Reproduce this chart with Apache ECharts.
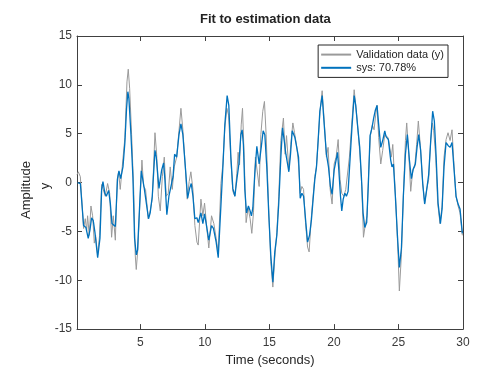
<!DOCTYPE html>
<html>
<head>
<meta charset="utf-8">
<script src="https://cdn.jsdelivr.net/npm/echarts@6/dist/echarts.min.js"></script>
<style>
html,body{margin:0;padding:0;background:#fff;}
#chart{width:490px;height:372px;}
</style>
</head>
<body>
<div id="chart"></div>
<script>
// Validation data (y) — gray
var valT = [0.1,0.2,0.36,0.61,0.74,0.85,0.92,1.05,1.18,1.31,1.44,1.54,1.7,1.85,2.01,2.14,2.29,2.47,2.63,2.78,2.91,3.07,3.22,3.32,3.45,3.63,3.81,3.97,4.07,4.18,4.33,4.49,4.61,4.69,4.82,4.97,5.13,5.26,5.41,5.62,5.77,5.93,6.14,6.27,6.4,6.55,6.71,6.86,7.01,7.17,7.32,7.48,7.63,7.82,8.0,8.15,8.3,8.49,8.64,8.79,8.92,9.08,9.23,9.39,9.49,9.7,9.85,9.98,10.16,10.31,10.52,10.7,10.88,11.04,11.25,11.4,11.55,11.71,11.84,12.02,12.17,12.33,12.48,12.58,12.69,12.82,12.92,13.05,13.2,13.36,13.51,13.64,13.77,13.92,14.05,14.21,14.34,14.49,14.62,14.75,14.96,15.11,15.27,15.42,15.58,15.73,15.89,16.09,16.22,16.33,16.51,16.66,16.82,16.95,17.13,17.28,17.39,17.52,17.65,17.8,17.96,18.08,18.26,18.39,18.52,18.65,18.83,18.93,19.09,19.25,19.42,19.55,19.71,19.86,20.02,20.17,20.33,20.48,20.61,20.77,20.92,21.05,21.2,21.38,21.57,21.69,21.87,22.03,22.16,22.29,22.42,22.57,22.7,22.83,22.98,23.11,23.21,23.34,23.47,23.63,23.78,23.94,24.06,24.2,24.35,24.45,24.56,24.66,24.81,24.97,25.07,25.23,25.38,25.54,25.64,25.8,25.95,26.11,26.26,26.41,26.54,26.69,26.88,27.03,27.19,27.34,27.5,27.63,27.73,27.89,28.04,28.22,28.38,28.53,28.69,28.84,29.0,29.15,29.31,29.46,29.62,29.77,29.95];
var valY = [0.8,1.1,0.6,-4.7,-3.7,-4.9,-3.4,-5.4,-2.4,-3.4,-6.2,-5.4,-7.4,-5.4,-0.2,-0.2,-1.4,-0.1,-1.1,-5.6,-3.4,-5.9,0.3,1.1,-0.7,2.0,4.6,10.3,11.6,9.6,4.9,-0.7,-7.4,-8.9,-6.7,-2.1,2.3,-0.4,-0.7,-3.7,-2.9,-1.7,5.1,2.9,-1.4,-2.9,0.6,2.6,-1.4,-1.1,1.6,-0.7,1.6,2.6,5.3,7.6,5.4,1.6,-1.7,0.1,1.1,-0.7,-4.4,-6.1,-6.4,-1.7,-3.4,-2.1,-4.7,-6.7,-3.4,-4.2,-5.7,-7.2,-0.1,1.9,5.6,7.6,6.9,2.3,-0.9,-1.4,0.9,3.1,1.8,5.9,7.6,2.6,-4.1,-2.6,-3.7,-5.2,-3.1,2.6,2.6,-0.4,4.9,7.3,8.3,4.9,-3.1,-8.1,-10.7,-7.7,-5.1,-1.4,4.3,6.6,2.9,4.8,1.3,3.9,6.1,5.1,3.6,1.6,-1.1,-0.4,-0.7,-4.1,-6.6,-7.1,-3.4,-1.4,0.6,1.6,5.3,7.3,9.4,6.3,2.6,3.6,-0.7,-2.2,1.9,2.6,4.4,0.3,-1.1,-1.4,-0.7,-0.6,2.6,5.9,9.5,7.9,5.3,2.6,-0.4,-5.6,-4.4,-3.4,1.3,4.8,5.9,5.4,6.6,7.9,4.6,1.9,3.3,4.9,4.7,4.6,4.4,2.6,3.9,4.0,-2.4,-7.4,-11.1,-7.4,-1.4,4.3,6.1,2.9,-0.9,1.3,1.6,3.9,6.3,3.8,-0.1,-2.1,-0.7,0.3,4.3,6.1,5.3,2.6,-2.1,-4.2,-2.4,2.6,4.4,5.1,4.3,5.4,1.6,-1.4,-2.4,-3.1,-5.4];

// sys: 70.78% — blue
var sysT = [0.15,0.36,0.61,0.79,0.87,0.97,1.1,1.23,1.36,1.49,1.7,1.88,2.01,2.11,2.26,2.37,2.55,2.68,2.81,2.94,3.07,3.24,3.35,3.48,3.66,3.81,3.94,4.04,4.12,4.28,4.43,4.56,4.69,4.79,4.95,5.08,5.18,5.31,5.46,5.64,5.77,5.93,6.14,6.24,6.45,6.66,6.81,6.91,7.06,7.22,7.38,7.54,7.66,7.82,8.0,8.15,8.3,8.51,8.67,8.82,8.95,9.08,9.23,9.39,9.49,9.7,9.85,9.98,10.13,10.31,10.52,10.67,10.88,11.04,11.22,11.4,11.55,11.73,11.86,12.02,12.17,12.33,12.48,12.64,12.79,12.89,12.99,13.1,13.23,13.38,13.51,13.61,13.72,13.87,14.03,14.21,14.37,14.52,14.65,14.8,14.96,15.11,15.27,15.42,15.58,15.73,15.89,16.02,16.15,16.28,16.41,16.51,16.64,16.77,16.87,16.98,17.13,17.26,17.39,17.52,17.65,17.8,17.96,18.11,18.26,18.39,18.52,18.65,18.78,18.91,19.09,19.25,19.42,19.58,19.73,19.86,20.02,20.17,20.28,20.38,20.51,20.61,20.72,20.85,20.97,21.1,21.26,21.41,21.57,21.69,21.85,22.0,22.13,22.26,22.39,22.54,22.67,22.8,22.95,23.08,23.21,23.34,23.47,23.63,23.78,23.94,24.04,24.22,24.4,24.5,24.61,24.76,24.92,25.07,25.23,25.38,25.54,25.69,25.85,26.0,26.15,26.31,26.44,26.57,26.72,26.88,27.03,27.19,27.34,27.5,27.65,27.78,27.91,28.07,28.25,28.38,28.53,28.69,28.84,29.0,29.15,29.31,29.46,29.62,29.77,29.95];
var sysY = [0,-0.1,-4.4,-4.6,-5.1,-5.7,-4.9,-3.6,-3.9,-5.1,-7.7,-5.7,-0.7,0.1,-1.1,-1.4,-0.8,-2.1,-4.2,-4.0,-4.5,0.4,1.2,0.4,1.6,4.1,7.6,9.3,8.6,4.9,0.6,-5.7,-7.4,-6.9,-2.4,1.2,1.4,-0.6,-0.7,-3.7,-3.1,-1.4,3.3,2.6,-0.6,1.3,2.0,0.3,-3.3,-1.4,-0.4,0.6,2.9,2.6,4.9,6.0,4.9,1.3,-1.6,-0.6,-0.1,-1.4,-3.7,-3.6,-4.1,-3.1,-4.2,-3.2,-4.4,-5.9,-4.4,-4.7,-6.1,-7.7,-3.1,1.6,5.9,8.9,7.9,2.6,-0.6,-1.4,0.3,1.9,4.9,5.4,3.9,-0.7,-3.1,-2.4,-2.9,-3.4,-2.6,0.9,3.7,1.9,3.6,5.3,4.9,1.6,-3.4,-7.4,-10.2,-7.1,-5.4,-2.1,2.6,5.6,4.3,2.9,1.9,1.1,2.9,5.3,5.4,4.6,4.4,2.6,-1.6,-1.1,-1.4,-3.7,-6.1,-5.4,-3.8,-1.7,0.3,1.6,4.3,7.3,8.9,5.9,2.9,1.6,-0.4,-1.2,1.3,2.3,3.1,1.3,-1.4,-2.9,-1.7,-1.1,-1.4,-0.9,2.6,5.9,8.9,7.9,5.6,3.6,0.6,-3.1,-4.6,-4.1,-0.1,4.8,5.6,6.6,7.4,7.9,5.9,3.6,4.3,5.3,4.7,4.4,2.3,1.6,1.9,-1.4,-5.4,-8.7,-6.7,-1.4,2.9,4.9,2.3,0.4,1.4,1.9,3.6,4.9,3.3,-0.1,-2.2,-0.7,0.8,4.3,7.3,6.3,2.9,-2.1,-4.2,-2.7,1.6,4.1,3.8,3.6,4.1,1.3,-1.4,-2.2,-2.7,-5.2];

var xTicks = [5, 10, 15, 20, 25, 30];
var yMin = -15, yMax = 15, yStep = 5;

var axisColor = '#404040';
var textColor = '#3a3a3a';
var font = 'Liberation Sans, Arial, Helvetica, sans-serif';

function pairs(t, y) { return t.map(function (v, i) { return [v, y[i]]; }); }

var chart = echarts.init(document.getElementById('chart'), null, {renderer: 'canvas'});
chart.setOption({
  animation: false,
  backgroundColor: '#fff',
  textStyle: {fontFamily: font},
  grid: {left: 77, right: 27, top: 36, bottom: 36, containLabel: false},
  legend: {
    orient: 'vertical', right: 42, top: 45,
    padding: [4, 4, 4, 2], itemGap: 2, itemWidth: 30, itemHeight: 14,
    borderColor: '#262626', borderWidth: 1, backgroundColor: '#fff',
    itemStyle: {opacity: 0},
    textStyle: {fontSize: 11, color: '#262626', fontFamily: font},
    data: ['Validation data (y)', 'sys: 70.78%']
  },
  graphic: [
    {type: 'text', left: 266 - 66, top: 13, style: {text: 'Fit to estimation data', font: 'bold 13px ' + font, fill: '#222'}},
    {type: 'text', x: 26, y: 190, rotation: Math.PI / 2, style: {text: 'Amplitude', font: '13px ' + font, fill: '#262626', textAlign: 'center', textVerticalAlign: 'middle'}},
    {type: 'text', x: 45, y: 186, rotation: Math.PI / 2, style: {text: 'y', font: '13px ' + font, fill: '#262626', textAlign: 'center', textVerticalAlign: 'middle'}}
  ],
  xAxis: [
    {
      type: 'value', position: 'bottom', min: 0.1, max: 30,
      axisLine: {show: true, onZero: false, lineStyle: {color: axisColor, width: 1}},
      axisTick: {show: true, inside: true, length: 5, customValues: xTicks, lineStyle: {color: axisColor}},
      axisLabel: {show: true, customValues: xTicks, fontSize: 12, color: textColor, margin: 8, fontFamily: font},
      splitLine: {show: false},
      name: 'Time (seconds)', nameLocation: 'middle', nameGap: 23,
      nameTextStyle: {fontSize: 13, color: '#262626', fontFamily: font}
    },
    {
      type: 'value', position: 'top', min: 0.1, max: 30,
      axisLine: {show: true, onZero: false, lineStyle: {color: axisColor, width: 1}},
      axisTick: {show: true, inside: true, length: 5, customValues: xTicks, lineStyle: {color: axisColor}},
      axisLabel: {show: false},
      splitLine: {show: false}
    }
  ],
  yAxis: [
    {
      type: 'value', position: 'left', min: yMin, max: yMax, interval: yStep,
      axisLine: {show: true, onZero: false, lineStyle: {color: axisColor, width: 1}},
      axisTick: {show: true, inside: true, length: 5, lineStyle: {color: axisColor}},
      axisLabel: {show: true, fontSize: 12, color: textColor, margin: 5, fontFamily: font},
      splitLine: {show: false}
    },
    {
      type: 'value', position: 'right', min: yMin, max: yMax, interval: yStep,
      axisLine: {show: true, onZero: false, lineStyle: {color: axisColor, width: 1}},
      axisTick: {show: true, inside: true, length: 5, lineStyle: {color: axisColor}},
      axisLabel: {show: false},
      splitLine: {show: false}
    }
  ],
  series: [
    {
      name: 'Validation data (y)', type: 'line', xAxisIndex: 0, yAxisIndex: 0,
      data: pairs(valT, valY), showSymbol: false, symbol: 'none',
      lineStyle: {color: '#9a9a9a', width: 1}, itemStyle: {color: '#9a9a9a'}, z: 2
    },
    {
      name: 'sys: 70.78%', type: 'line', xAxisIndex: 0, yAxisIndex: 0,
      data: pairs(sysT, sysY), showSymbol: false, symbol: 'none',
      lineStyle: {color: '#0072BD', width: 1.3}, itemStyle: {color: '#0072BD'}, z: 3
    }
  ]
});
</script>
</body>
</html>
